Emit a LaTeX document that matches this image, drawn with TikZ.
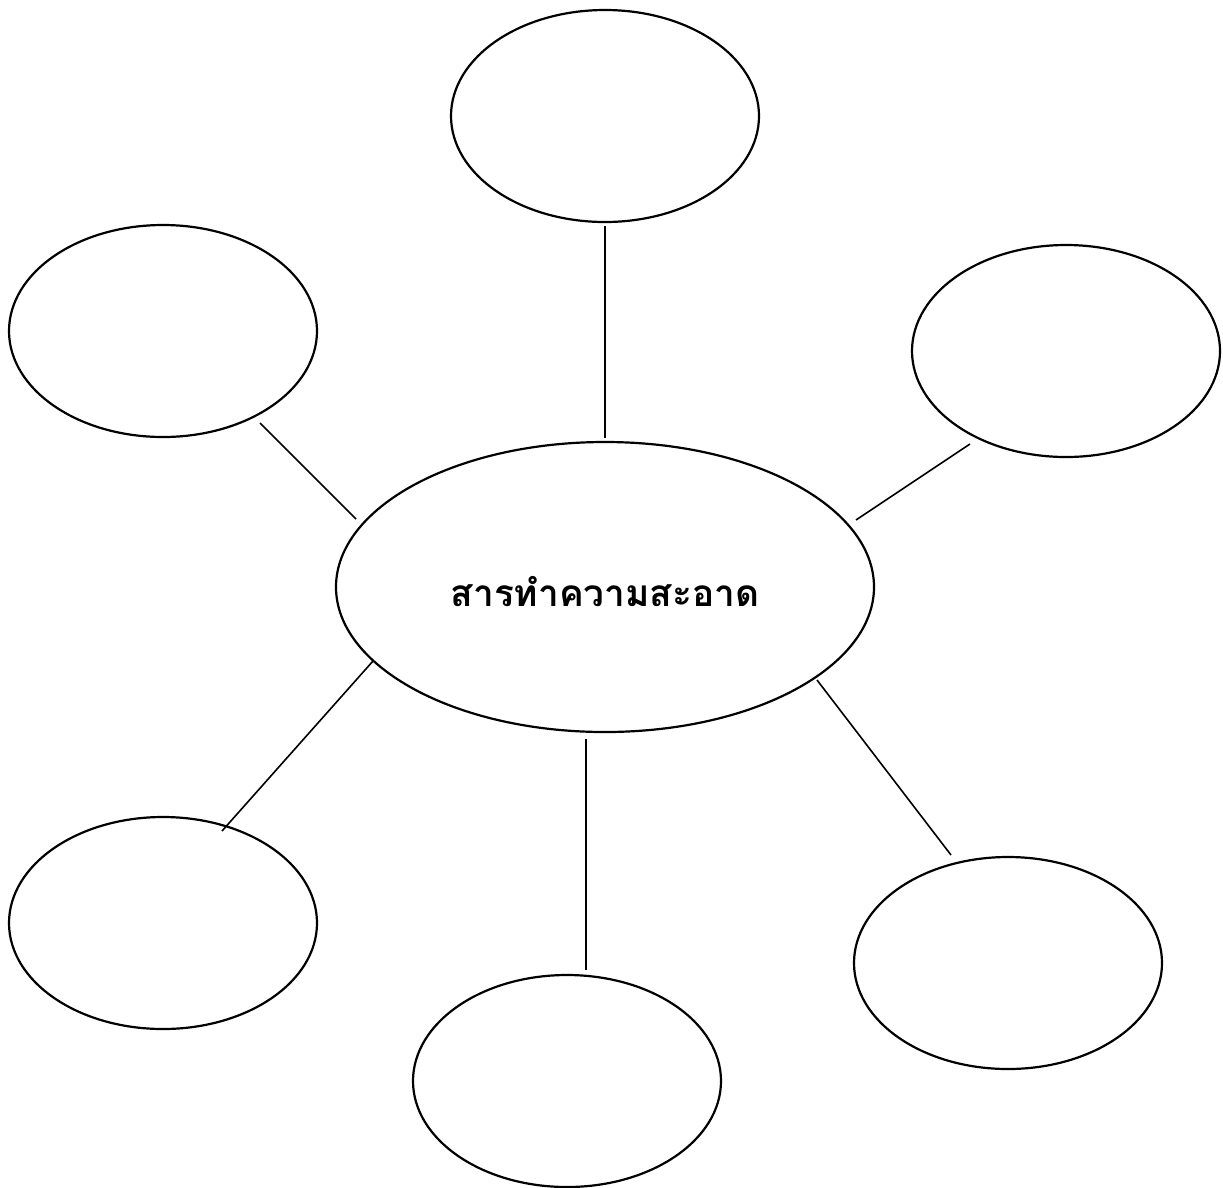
\documentclass[tikz,border=0pt]{standalone}
\usepackage{fontspec}
\newfontfamily\thaifont[Script=Thai]{Loma}
\usetikzlibrary{shapes.geometric}
\tikzset{
  bubble/.style={ellipse, draw=black, line width=2.2pt, minimum width=308pt, minimum height=212pt, inner sep=0pt},
  hub/.style={ellipse, draw=black, line width=2.2pt, minimum width=538pt, minimum height=290pt, inner sep=0pt},
  link/.style={draw=black, line width=1.6pt}
}
\begin{document}
\begin{tikzpicture}[x=1pt,y=-1pt]
\useasboundingbox (0,0) rectangle (1223,1187);
\node[hub] (c) at (605,587) {};
\node (lbl) at (605,592) {\thaifont\bfseries\fontsize{37pt}{44pt}\selectfont สารทำความสะอาด};
\node[bubble] (t) at (605,116) {};
\node[bubble] (lt) at (163,331) {};
\node[bubble] (rt) at (1066,351) {};
\node[bubble] (lb) at (163,923) {};
\node[bubble] (bc) at (567,1081) {};
\node[bubble] (rb) at (1008,963) {};
\coordinate (t1) at (605,226); \coordinate (t2) at (605,438);
\coordinate (lt1) at (260,423); \coordinate (lt2) at (356,519);
\coordinate (rt1) at (970,444); \coordinate (rt2) at (856,520);
\coordinate (lb1) at (222,831); \coordinate (lb2) at (373,661);
\coordinate (bc1) at (586,970); \coordinate (bc2) at (586,739);
\coordinate (rb1) at (951,855); \coordinate (rb2) at (817,680);
\draw[link] (t1) -- (t2);
\draw[link] (lt1) -- (lt2);
\draw[link] (rt1) -- (rt2);
\draw[link] (lb1) -- (lb2);
\draw[link] (bc1) -- (bc2);
\draw[link] (rb1) -- (rb2);
\end{tikzpicture}
\end{document}
